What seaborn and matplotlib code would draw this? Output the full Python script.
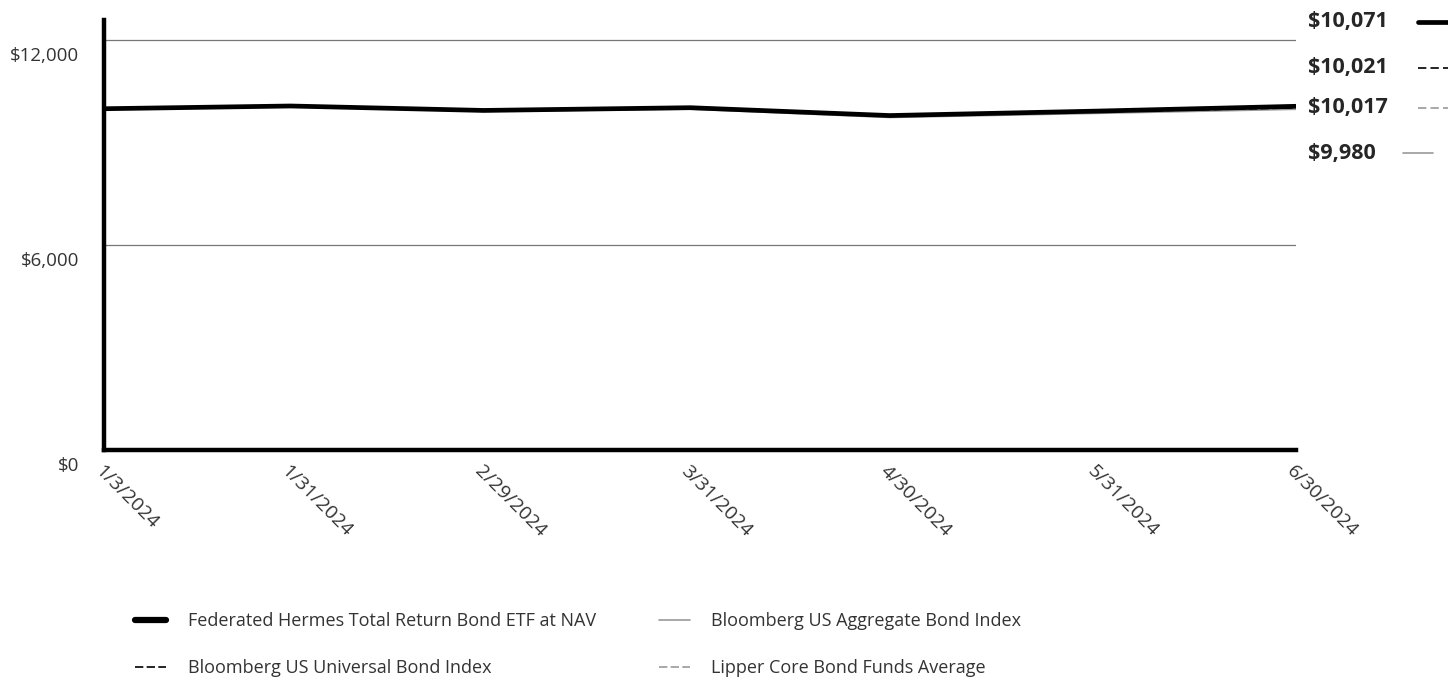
import matplotlib
matplotlib.use("Agg")
import matplotlib.pyplot as plt
import matplotlib.transforms as mtransforms
from matplotlib.lines import Line2D
import pandas as pd
import seaborn as sns

# --- data ---
dates = ["2024-01-03", "2024-01-31", "2024-02-29", "2024-03-31",
         "2024-04-30", "2024-05-31", "2024-06-30"]
date_labels = ["1/3/2024", "1/31/2024", "2/29/2024", "3/31/2024",
               "4/30/2024", "5/31/2024", "6/30/2024"]
fund = [10000, 10080, 9950, 10030, 9800, 9930, 10071]
universal = [10000, 10070, 9945, 10010, 9790, 9905, 10021]
lipper = [10000, 10075, 9950, 10015, 9790, 9910, 10017]
aggregate = [10000, 10060, 9920, 9985, 9740, 9860, 9980]
y_ticks = [0, 6000, 12000]
y_tick_labels = ["$0", "$6,000", "$12,000"]

names = ["Federated Hermes Total Return Bond ETF at NAV",
         "Bloomberg US Universal Bond Index",
         "Bloomberg US Aggregate Bond Index",
         "Lipper Core Bond Funds Average"]
series = [fund, universal, aggregate, lipper]
styles = [dict(color="black", lw=3.4, ls="-", z=5),
          dict(color="black", lw=1.0, ls=(0, (6, 2.5)), z=4),
          dict(color="#9a9a9a", lw=1.0, ls="-", z=2),
          dict(color="#9a9a9a", lw=1.0, ls=(0, (6, 2.5)), z=3)]

sns.set_style("white")
plt.rcParams["font.family"] = ["Open Sans", "DejaVu Sans"]

fig = plt.figure(figsize=(14.48, 6.8), dpi=100)
ax = fig.add_axes([104 / 1448, 1 - 450 / 680, (1296 - 104) / 1448, (450 - 20) / 680])

x = pd.to_datetime(dates)
handles = []
for name, vals, st in zip(names, series, styles):
    sns.lineplot(x=x, y=vals, ax=ax, color=st["color"], linewidth=st["lw"],
                 linestyle=st["ls"], zorder=st["z"], legend=False)
    handles.append(Line2D([], [], color=st["color"],
                          lw=4.5 if st["z"] == 5 else 1.2,
                          ls="-" if st["ls"] == "-" else (0, (5, 2)), label=name))

ax.set_xlabel("")
ax.set_ylabel("")
ax.set_xlim(x[0], x[-1])
ax.set_ylim(0, 12600)
ax.set_xticks(x)
ax.set_xticklabels(date_labels, rotation=-45, ha="left", va="top",
                   rotation_mode="anchor", fontsize=14, color="#333333")
ax.set_yticks(y_ticks)
ax.set_yticklabels(y_tick_labels, fontsize=13.5, color="#333333")
ax.tick_params(axis="y", length=0, pad=18)
ax.tick_params(axis="x", length=0, pad=9)
shift = mtransforms.ScaledTranslation(0, -0.14, fig.dpi_scale_trans)
for t in ax.get_yticklabels():
    t.set_transform(t.get_transform() + shift)

ax.grid(False)
for yv in y_ticks[1:]:
    ax.axhline(yv, color="#777777", lw=0.9, zorder=1)
for s in ["top", "right"]:
    ax.spines[s].set_visible(False)
for s in ["left", "bottom"]:
    ax.spines[s].set_linewidth(3.2)
    ax.spines[s].set_color("black")

# end value labels on the right
end_y = [22, 68, 108, 153]
end_order = [0, 1, 3, 2]
for yy, i in zip(end_y, end_order):
    fy = 1 - yy / 680
    fig.text(1308 / 1448, fy, "${:,}".format(series[i][-1]), fontsize=15.5,
             fontweight="bold", ha="left", va="center")
    st = styles[i]
    x0, x1 = (1418, 1448) if i != 2 else (1403, 1433)
    fig.add_artist(Line2D([x0 / 1448, x1 / 1448], [fy, fy], color=st["color"],
                          lw=st["lw"] if st["z"] == 5 else 1.2,
                          ls="-" if st["ls"] == "-" else (0, (5, 2.5))))

fig.legend(handles=handles, ncol=2, loc="upper left",
           bbox_to_anchor=(119 / 1448, 1 - 596 / 680), frameon=False,
           fontsize=13, handlelength=1.7, handletextpad=1.2,
           labelspacing=1.6, columnspacing=3.5, labelcolor="#333333")

fig.savefig("out.png", dpi=100)
